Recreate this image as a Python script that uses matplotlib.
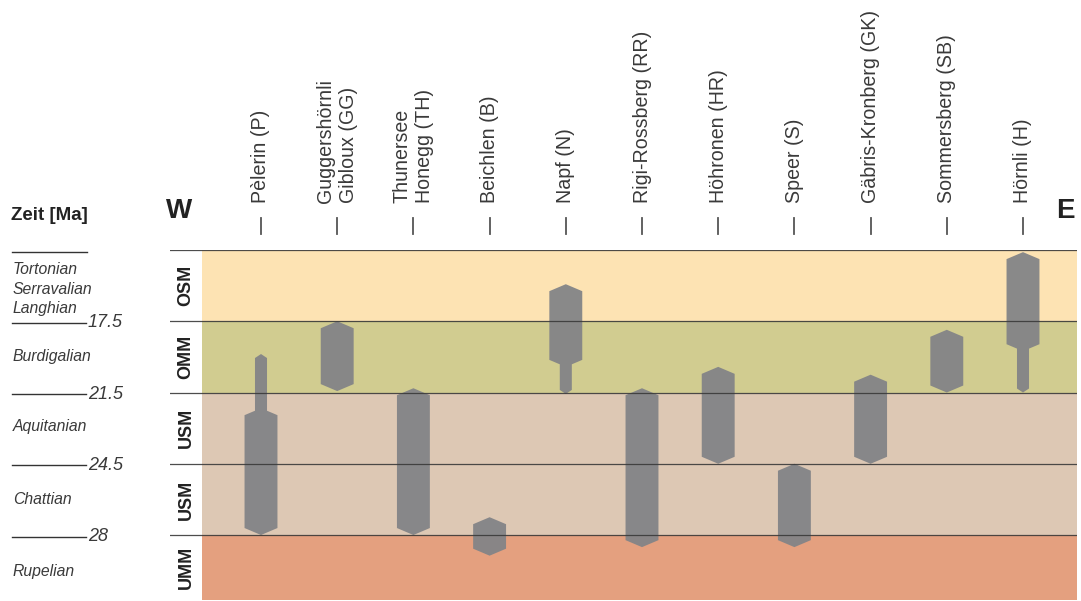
import numpy as np
import matplotlib
matplotlib.use("Agg")
import matplotlib.pyplot as plt
from matplotlib.patches import Polygon
import matplotlib.transforms as mtransforms

plt.rcParams['font.family'] = ['Liberation Sans', 'DejaVu Sans']

# ---------------- data ----------------
# vertical positions in band units: 0 = top line, 1 = 17.5 Ma, 2 = 21.5 Ma, 3 = 24.5 Ma, 4 = 28 Ma
sites = ["Pèlerin (P)", "Guggershörnli\nGibloux (GG)", "Thunersee\nHonegg (TH)", "Beichlen (B)",
         "Napf (N)", "Rigi-Rossberg (RR)", "Höhronen (HR)", "Speer (S)",
         "Gäbris-Kronberg (GK)", "Sommersberg (SB)", "Hörnli (H)"]
wide_top = [2.22, 1.00, 1.94, 3.75, 0.48, 1.94, 1.64, 3.00, 1.75, 1.12, 0.03]
wide_bot = [4.00, 1.98, 4.00, 4.29, 1.64, 4.17, 3.00, 4.17, 3.00, 2.00, 1.42]
stem_top = [1.46, np.nan, np.nan, np.nan, np.nan, np.nan, np.nan, np.nan, np.nan, np.nan, np.nan]
stem_bot = [np.nan, np.nan, np.nan, np.nan, 2.02, np.nan, np.nan, np.nan, np.nan, np.nan, 2.00]

units = ["OSM", "OMM", "USM", "USM", "UMM"]
unit_top = [0.0, 1.0, 2.0, 3.0, 4.0]
unit_bot = [1.0, 2.0, 3.0, 4.0, 4.912]
unit_colors = ["#fde3b3", "#d1cc90", "#ddc8b4", "#ddc8b4", "#e4a07f"]

boundary_pos = [1.0, 2.0, 3.0, 4.0]
boundary_ages = ["17.5", "21.5", "24.5", "28"]
stages = ["Tortonian", "Serravalian", "Langhian", "Burdigalian", "Aquitanian", "Chattian", "Rupelian"]
stage_pos = [0.27, 0.55, 0.82, 1.50, 2.48, 3.50, 4.51]

# ---------------- figure ----------------
W, H = 1081, 601
fig = plt.figure(figsize=(W / 100, H / 100), dpi=100)
fig.patch.set_facecolor("white")

ax_l, ax_r, ax_t, ax_b = 170, 1077, 250, 600
ax = fig.add_axes([ax_l / W, 1 - ax_b / H, (ax_r - ax_l) / W, (ax_b - ax_t) / H])
col_px0, col_dx = 261.0, 76.2
ax.set_xlim((ax_l - col_px0) / col_dx, (ax_r - col_px0) / col_dx)
ax.set_ylim(unit_bot[-1], 0)
ax.axis("off")

fill_xmin = (202 - ax_l) / (ax_r - ax_l)
for t, b, c in zip(unit_top, unit_bot, unit_colors):
    ax.axhspan(t, b, xmin=fill_xmin, xmax=1, color=c, lw=0, zorder=0)

for t in unit_top:
    ax.axhline(t, color="#3a3a3a", lw=0.9, zorder=3, alpha=0.9)
ax.axhline(-0.02, color="#c8c8c8", lw=0.8, zorder=2)

# unit labels in the left strip
strip_x = (186 - col_px0) / col_dx
for name, t, b in zip(units, unit_top, unit_bot):
    ax.text(strip_x, (t + b) / 2, name, rotation=90, ha="center", va="center",
            fontsize=13, fontweight="bold", color="#222222", zorder=4)

# column shapes
hw, hs = 0.216, 0.079
dw, ds = 0.098, 0.056
for i in range(len(sites)):
    c = i
    t, b = wide_top[i], wide_bot[i]
    st, sb = stem_top[i], stem_bot[i]
    right = []
    if not np.isnan(st):
        right += [(c, st), (c + hs, st + ds), (c + hs, t + dw * hs / hw)]
    else:
        right += [(c, t)]
    right += [(c + hw, t + dw), (c + hw, b - dw)]
    if not np.isnan(sb):
        right += [(c + hs, b - dw * hs / hw), (c + hs, sb - ds), (c, sb)]
    else:
        right += [(c, b)]
    left = [(2 * c - x, y) for (x, y) in right[::-1] if x != c]
    pts = right + left
    ax.add_patch(Polygon(pts, closed=True, facecolor="#838487", edgecolor="none",
                         alpha=0.95, zorder=2))

# column labels and ticks
trans = mtransforms.blended_transform_factory(ax.transData, fig.transFigure)
for i, s in enumerate(sites):
    ax.plot([i, i], [1 - 218 / H, 1 - 234 / H], color="#555555", lw=1.3,
            transform=trans, clip_on=False)
    ax.text(i, 1 - 203 / H, s, rotation=90, ha="center", va="bottom",
            multialignment="left", fontsize=14.1, color="#3a3a3a",
            transform=trans, linespacing=1.28)

# W / E
fig.text(166 / W, 1 - 218 / H, "W", fontsize=20, fontweight="bold", ha="left",
         va="baseline", color="#222222")
fig.text(1075 / W, 1 - 218 / H, "E", fontsize=20, fontweight="bold", ha="right",
         va="baseline", color="#222222")

# left time scale
fig.text(11 / W, 1 - 215 / H, "Zeit [Ma]", fontsize=13.5, fontweight="bold",
         ha="left", va="center", color="#222222")

band_px = (ax_b - ax_t) / unit_bot[-1]
def ypx(v):
    return ax_t + v * band_px

fig.add_artist(plt.Line2D([12 / W, 87 / W], [1 - 252 / H, 1 - 252 / H],
                          color="#333333", lw=1.0))
for p, a in zip(boundary_pos, boundary_ages):
    y = ypx(p) + 1.5
    fig.add_artist(plt.Line2D([12 / W, 86 / W], [1 - y / H, 1 - y / H],
                              color="#333333", lw=1.0))
    fig.text(88 / W, 1 - y / H, a, fontsize=13, fontstyle="italic",
             ha="left", va="center", color="#3a3a3a")

for s, p in zip(stages, stage_pos):
    fig.text(13 / W, 1 - ypx(p) / H, s, fontsize=11.3, fontstyle="italic",
             ha="left", va="center", color="#3a3a3a")

fig.savefig("out.png", dpi=100)
